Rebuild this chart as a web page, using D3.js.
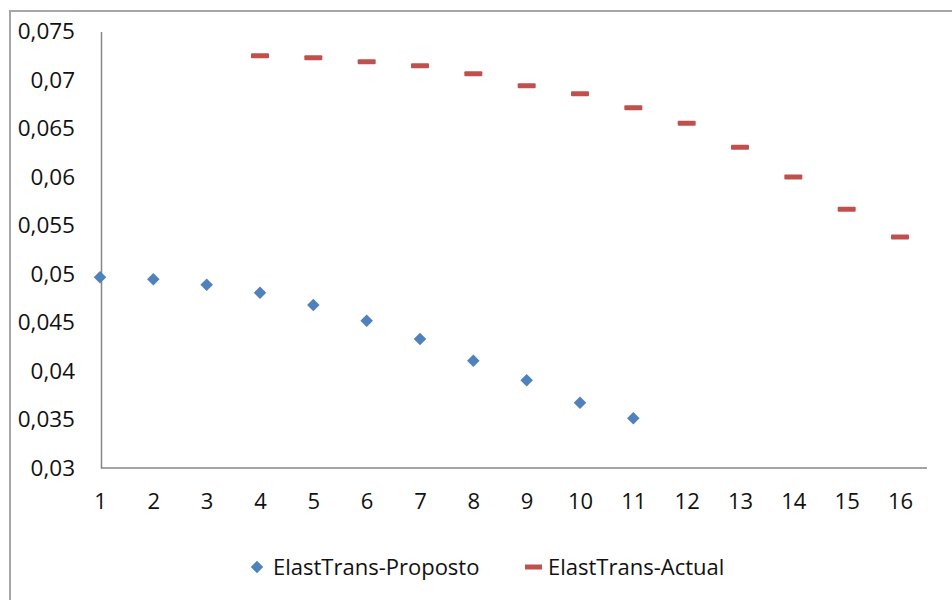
<!DOCTYPE html>
<html><head><meta charset="utf-8">
<script src="https://cdn.jsdelivr.net/npm/d3@7"></script>
<style>
html,body{margin:0;padding:0;background:#fff;}
svg{display:block;font-family:"Open Sans","Noto Sans",sans-serif;}
</style></head>
<body>
<svg id="chart" width="952" height="600"></svg>
<script>
const categories = ["1","2","3","4","5","6","7","8","9","10","11","12","13","14","15","16"];
const propostoValues = [0.04966,0.04945,0.04890,0.04807,0.04680,0.04518,0.04330,0.04106,0.03904,0.03673,0.03512,null,null,null,null,null];
const actualValues = [null,null,null,0.07251,0.07230,0.07189,0.07147,0.07065,0.06941,0.06859,0.06714,0.06554,0.06306,0.06000,0.05667,0.05381];
const yTicks = [0.03,0.035,0.04,0.045,0.05,0.055,0.06,0.065,0.07,0.075];
const seriesNames = ["ElastTrans-Proposto","ElastTrans-Actual"];

const svg = d3.select("#chart");
const blue = "#4f81bd", red = "#c0504d", axisCol = "#868686", textCol = "#111111";

// outer chart frame (extends past the picture on right/bottom)
svg.append("rect").attr("x",10).attr("y",11).attr("width",960).attr("height",620)
  .attr("fill","none").attr("stroke","#a6a6a6").attr("stroke-width",2);

const plot = {left:101, right:927, top:31.5, bottom:468};
const x = d3.scalePoint().domain(categories).range([100, 900]);
const y = d3.scaleLinear().domain([0.03,0.075]).range([plot.bottom, plot.top]);

const loc = d3.formatLocale({decimal:",", thousands:".", grouping:[3], currency:["",""]});
const fmt = loc.format("~f");

// y axis
const yAxis = svg.append("g").attr("transform",`translate(${plot.left},0)`)
  .call(d3.axisLeft(y).tickValues(yTicks).tickFormat(fmt).tickSize(0).tickPadding(26));
yAxis.select(".domain").attr("stroke",axisCol).attr("stroke-width",1.5);
yAxis.selectAll("text").attr("font-size",22.5).attr("fill",textCol)
  .attr("font-family","'Open Sans',sans-serif");

// x axis
const xAxis = svg.append("g").attr("transform",`translate(0,${plot.bottom})`)
  .call(d3.axisBottom(x).tickSize(0).tickPadding(25));
xAxis.select(".domain").remove();
svg.append("line").attr("x1",plot.left).attr("x2",plot.right)
  .attr("y1",plot.bottom).attr("y2",plot.bottom)
  .attr("stroke",axisCol).attr("stroke-width",1.5);
xAxis.selectAll("text").attr("font-size",22).attr("fill",textCol)
  .attr("font-family","'Open Sans',sans-serif");

// series
const diamond = d3.symbol().type(d3.symbolDiamond2).size(100);
svg.append("g").selectAll("path")
  .data(categories.map((c,i)=>({c,v:propostoValues[i]})).filter(d=>d.v!=null))
  .join("path").attr("d",diamond)
  .attr("transform",d=>`translate(${x(d.c)},${y(d.v)})`)
  .attr("fill",blue);

svg.append("g").selectAll("rect")
  .data(categories.map((c,i)=>({c,v:actualValues[i]})).filter(d=>d.v!=null))
  .join("rect")
  .attr("x",d=>x(d.c)-9).attr("y",d=>y(d.v)-2.5)
  .attr("width",18).attr("height",5).attr("rx",1)
  .attr("fill",red);

// legend
const lg = svg.append("g").attr("transform","translate(0,567)");
lg.append("path").attr("d",diamond).attr("transform","translate(257,0)").attr("fill",blue);
lg.append("text").attr("x",273).attr("y",0).attr("dy","0.35em")
  .attr("font-size",22).attr("fill",textCol).text(seriesNames[0]);
lg.append("rect").attr("x",525).attr("y",-2.5).attr("width",17).attr("height",5).attr("fill",red);
lg.append("text").attr("x",548).attr("y",0).attr("dy","0.35em")
  .attr("font-size",22).attr("fill",textCol).text(seriesNames[1]);
</script>
</body></html>
